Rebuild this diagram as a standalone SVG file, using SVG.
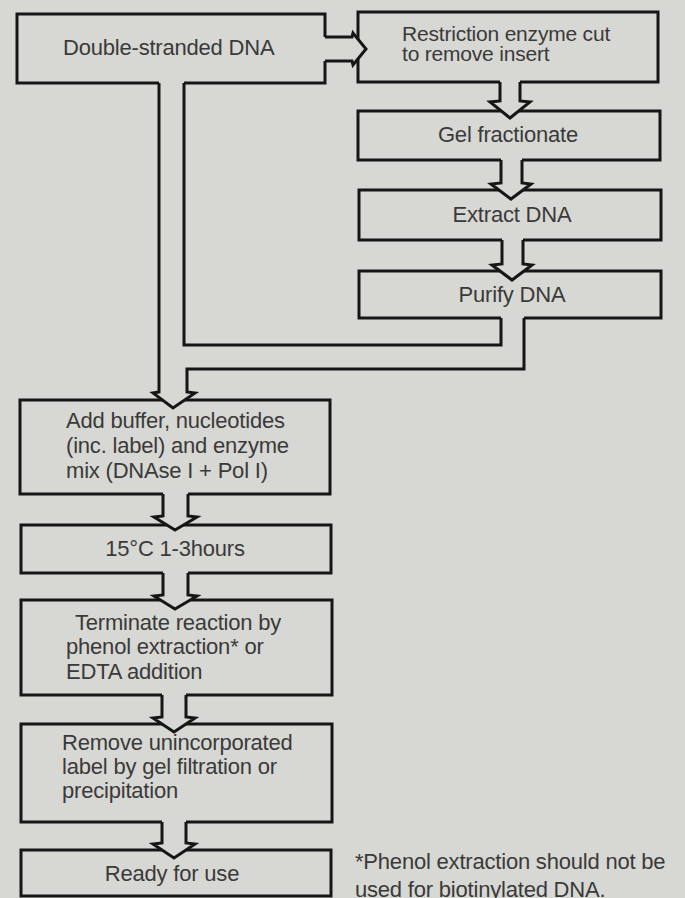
<svg xmlns="http://www.w3.org/2000/svg" width="685" height="898" viewBox="0 0 685 898">
  <style>
    .paper { fill: #d7d7d3; }
    .box { fill: #d7d7d3; stroke: #161616; stroke-width: 3; }
    .gap { fill: #d7d7d3; stroke: none; }
    .wire { fill: none; stroke: #161616; stroke-width: 3; stroke-linejoin: miter; stroke-miterlimit: 6; }
    .t { font-family: "Liberation Sans", Arial, sans-serif; font-size: 22px; fill: #3a3a3a; letter-spacing: -0.2px; }
    .s { font-size: 21px; }
    .c { text-anchor: middle; }
  </style>

  <rect class="paper" x="0" y="0" width="685" height="898"/>

  <!-- process steps -->
  <g id="n-dsdna">
    <rect class="box" x="17" y="14" width="308" height="69"/>
    <text class="t" x="63" y="55">Double-stranded DNA</text>
  </g>
  <g id="n-restrict">
    <rect class="box" x="358" y="12" width="300" height="70"/>
    <text class="t s" x="402" y="41">Restriction enzyme cut</text>
    <text class="t s" x="402" y="61">to remove insert</text>
  </g>
  <g id="n-gel">
    <rect class="box" x="358" y="111" width="302" height="49"/>
    <text class="t c" x="508" y="142">Gel fractionate</text>
  </g>
  <g id="n-extract">
    <rect class="box" x="359" y="190" width="302" height="50"/>
    <text class="t c" x="512" y="222">Extract DNA</text>
  </g>
  <g id="n-purify">
    <rect class="box" x="359" y="271" width="302" height="47"/>
    <text class="t c" x="512" y="302">Purify DNA</text>
  </g>
  <g id="n-mix">
    <rect class="box" x="20" y="400" width="310" height="94"/>
    <text class="t" x="66" y="428">Add buffer, nucleotides</text>
    <text class="t" x="66" y="453">(inc. label) and enzyme</text>
    <text class="t" x="66" y="478">mix (DNAse I + Pol I)</text>
  </g>
  <g id="n-incubate">
    <rect class="box" x="21" y="525" width="310" height="48"/>
    <text class="t c" x="175" y="556">15°C 1-3hours</text>
  </g>
  <g id="n-terminate">
    <rect class="box" x="21" y="600" width="311" height="95"/>
    <text class="t" x="75" y="630">Terminate reaction by</text>
    <text class="t" x="66" y="654">phenol extraction* or</text>
    <text class="t" x="66" y="679">EDTA addition</text>
  </g>
  <g id="n-remove">
    <rect class="box" x="21" y="724" width="311" height="98"/>
    <text class="t" x="62" y="750">Remove unincorporated</text>
    <text class="t" x="62" y="774">label by gel filtration or</text>
    <text class="t" x="62" y="798">precipitation</text>
  </g>
  <g id="n-ready">
    <rect class="box" x="21" y="850" width="310" height="46"/>
    <text class="t c" x="172" y="881">Ready for use</text>
  </g>

  <g id="footnote">
    <text class="t" x="355" y="869">*Phenol extraction should not be</text>
    <text class="t" x="355" y="897">used for biotinylated DNA.</text>
  </g>

  <!-- block-arrow connectors: a fill that opens the box edges, then the outline -->
  <g id="connectors">
    <!-- dsDNA -> restriction cut -->
    <path class="gap" d="M322,37 H352 L353,33 L366,49 L353,65 L352,61 H322 Z"/>
    <path class="wire" d="M325,37 H352 L353,33 L366,49 L353,65 L352,61 H325"/>

    <!-- restriction cut -> gel -->
    <path class="gap" d="M500,79 V101 L490,102 L510,118 L530,102 L520,101 V79 Z"/>
    <path class="wire" d="M500,82 V101 L490,102 L510,118 L530,102 L520,101 V82"/>

    <!-- gel -> extract -->
    <path class="gap" d="M501,157 V183 L491,184 L511,199 L531,184 L522,183 V157 Z"/>
    <path class="wire" d="M501,160 V183 L491,184 L511,199 L531,184 L522,183 V160"/>

    <!-- extract -> purify -->
    <path class="gap" d="M502,237 V264 L492,265 L512,280 L532,265 L523,264 V237 Z"/>
    <path class="wire" d="M502,240 V264 L492,265 L512,280 L532,265 L523,264 V240"/>

    <!-- dsDNA and purified insert merge -> mix -->
    <path class="gap" d="M159,80 V392 L153,393 L173,408 L195,393 L187,392 V369 H524 V315 H501 V345 H184 V80 Z"/>
    <path class="wire" d="M159,83 V392 L153,393 L173,408 L195,393 L187,392 V369 H524 V318"/>
    <path class="wire" d="M184,83 V345 H501 V318"/>

    <!-- mix -> incubate -->
    <path class="gap" d="M163,491 V516 L154,517 L175,530 L197,517 L188,516 V491 Z"/>
    <path class="wire" d="M163,494 V516 L154,517 L175,530 L197,517 L188,516 V494"/>

    <!-- incubate -> terminate -->
    <path class="gap" d="M163,570 V595 L154,596 L175,609 L197,596 L188,595 V570 Z"/>
    <path class="wire" d="M163,573 V595 L154,596 L175,609 L197,596 L188,595 V573"/>

    <!-- terminate -> remove label -->
    <path class="gap" d="M162,692 V717 L153,718 L174,732 L195,718 L186,717 V692 Z"/>
    <path class="wire" d="M162,695 V717 L153,718 L174,732 L195,718 L186,717 V695"/>

    <!-- remove label -> ready -->
    <path class="gap" d="M162,819 V843 L153,844 L174,858 L195,844 L186,843 V819 Z"/>
    <path class="wire" d="M162,822 V843 L153,844 L174,858 L195,844 L186,843 V822"/>
  </g>
</svg>
